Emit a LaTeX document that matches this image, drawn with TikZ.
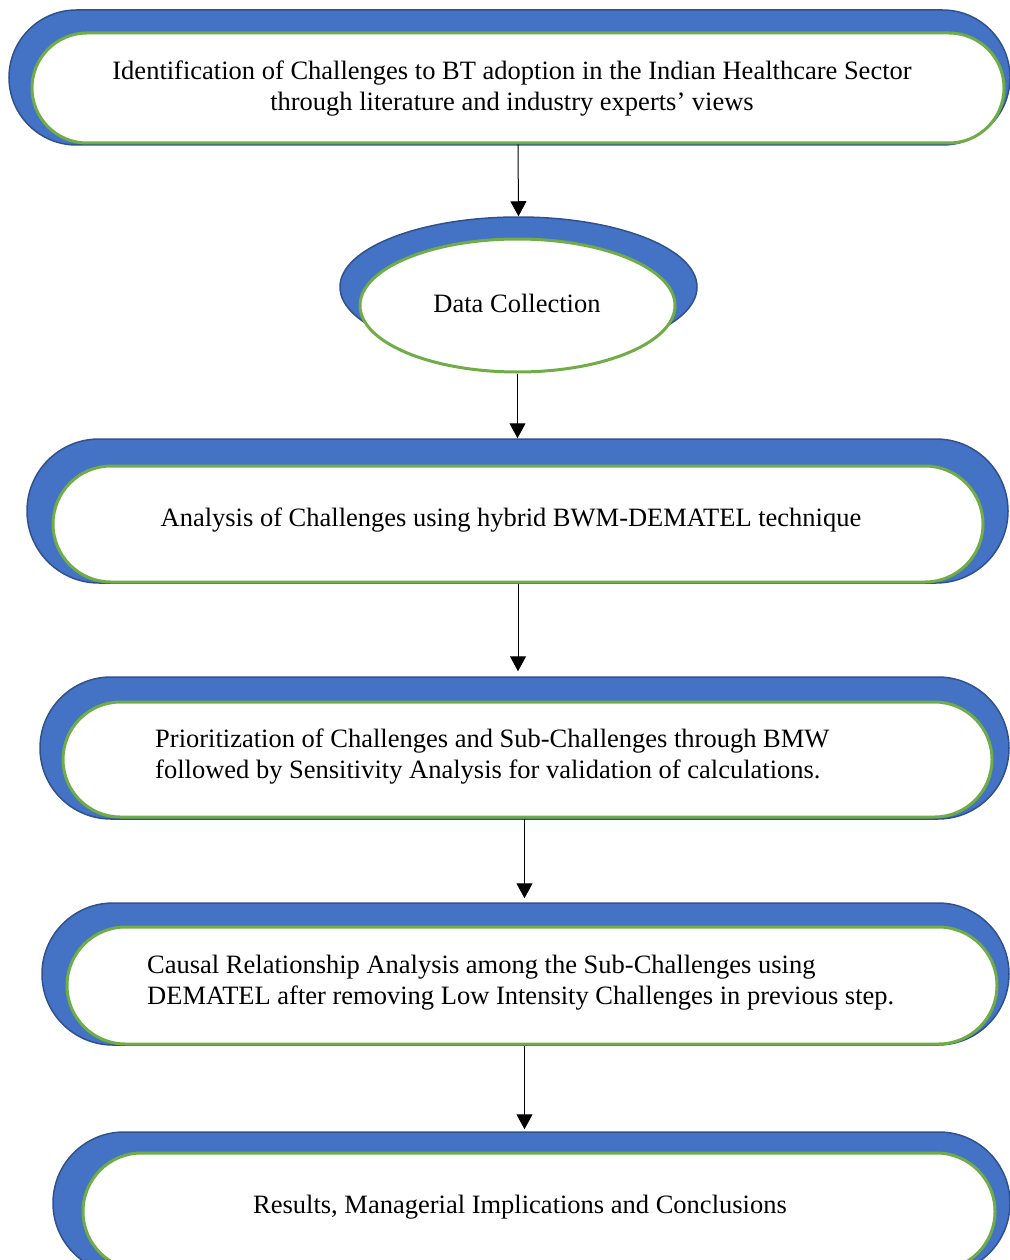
\documentclass[tikz,border=0pt]{standalone}
\usepackage{fontspec}
\setmainfont{Liberation Serif}
\usepackage{tikz}
\usetikzlibrary{shapes,arrows.meta}
\definecolor{shapeblue}{HTML}{4472C4}
\definecolor{edgeblue}{HTML}{2F528F}
\definecolor{rimgreen}{HTML}{70AD47}
\tikzstyle{backblock} = [rounded rectangle, draw=edgeblue, fill=shapeblue,
    line width=1.5pt, inner sep=0pt]
\tikzstyle{stepblock} = [rounded rectangle, draw=rimgreen, fill=white,
    line width=3pt, inner sep=0pt]
\tikzstyle{steptext} = [inner sep=0pt, font=\fontsize{26.5}{31}\selectfont]
\tikzstyle{line} = [draw, line width=1pt, -{Triangle[width=16pt,length=15pt]}]

\begin{document}
\begin{tikzpicture}[x=1pt, y=-1pt]
    \useasboundingbox (0,0) rectangle (1009,1260);
    % Blocks
    \node [backblock, minimum width=1001pt, minimum height=135pt] (identback) at (509.5,77.5) {};
    \node [stepblock, minimum width=972pt, minimum height=110pt] (ident) at (518,88) {};
    \node [steptext, align=center] (identtext) at (512,89) {Identification of Challenges to BT adoption in the Indian Healthcare Sector\\
    through literature and industry experts’ views};

    \node [ellipse, draw=edgeblue, fill=shapeblue, line width=1.5pt, inner sep=0pt,
        minimum width=357pt, minimum height=140pt] (databack) at (518.5,287) {};
    \node [ellipse, draw=rimgreen, fill=white, line width=3pt, inner sep=0pt,
        minimum width=315pt, minimum height=133pt] (data) at (517.5,305.5) {};
    \node [steptext] (datatext) at (517,303) {Data Collection};

    \node [backblock, minimum width=981pt, minimum height=144pt] (analysisback) at (517.5,511) {};
    \node [stepblock, minimum width=930pt, minimum height=116pt] (analysis) at (518,524) {};
    \node [steptext] (analysistext) at (511,520) {Analysis of Challenges using hybrid BWM-DEMATEL technique};

    \node [backblock, minimum width=969pt, minimum height=142pt] (priorback) at (524.5,748) {};
    \node [stepblock, minimum width=929pt, minimum height=115pt] (prior) at (527.5,759.5) {};
    \node [steptext, align=left, anchor=west] (priortext) at (155,757) {Prioritization of Challenges and Sub-Challenges through BMW\\
    followed by Sensitivity Analysis for validation of calculations.};

    \node [backblock, minimum width=967pt, minimum height=142pt] (causalback) at (525.5,974) {};
    \node [stepblock, minimum width=930pt, minimum height=117pt] (causal) at (532,985.5) {};
    \node [steptext, align=left, anchor=west] (causaltext) at (147,983) {Causal Relationship Analysis among the Sub-Challenges using\\
    DEMATEL after removing Low Intensity Challenges in previous step.};

    \node [backblock, minimum width=957pt, minimum height=142pt] (resultback) at (531.5,1203) {};
    \node [stepblock, minimum width=912pt, minimum height=117pt] (result) at (539,1211.5) {};
    \node [steptext] (resulttext) at (520,1207) {Results, Managerial Implications and Conclusions};

    % Draw edges
    \path [line] (ident.south) -- (databack.north);
    \path [line] (data.south) -- (data.south |- analysisback.north);
    \path [line, shorten >=5pt] (analysis.south) -- (analysis.south |- priorback.north);
    \path [line, shorten >=4pt] (prior.south -| priorback.north) -- (priorback.north |- causalback.north);
    \path [line, shorten >=2pt] (causal.south -| priorback.north) -- (priorback.north |- resultback.north);
\end{tikzpicture}
\end{document}
